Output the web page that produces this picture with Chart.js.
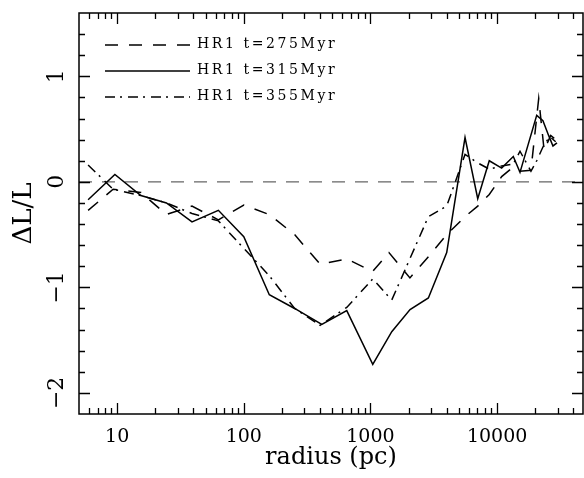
<!DOCTYPE html>
<html>
<head>
<meta charset="utf-8">
<script src="https://cdn.jsdelivr.net/npm/chart.js@4.4.1/dist/chart.umd.min.js"></script>
<style>
  html, body { margin: 0; padding: 0; background: #fff; }
  #wrap { width: 584px; height: 478px; }
</style>
</head>
<body>
<div id="wrap"><canvas id="c" width="584" height="478"></canvas></div>
<script>
// values: radius (pc) and dL/L per snapshot
const rad275 = [5.9, 9.3, 15.4, 24.5, 39, 63, 100, 159, 252, 400, 650, 1040, 1400, 2050, 2870, 4000, 5580, 7030, 8670, 10860, 13420, 15160, 18500, 21300, 23500, 26500, 29000];
const dl275  = [-0.27, -0.07, -0.10, -0.31, -0.23, -0.36, -0.22, -0.31, -0.50, -0.78, -0.73, -0.85, -0.67, -0.91, -0.71, -0.50, -0.33, -0.23, -0.12, 0.05, 0.14, 0.10, 0.11, 0.79, 0.30, 0.44, 0.40];

const rad315 = [5.9, 9.6, 15.4, 24.5, 39, 63, 100, 159, 252, 413, 650, 1043, 1473, 2054, 2866, 4000, 5580, 7030, 8670, 10860, 13420, 15160, 20540, 23000, 25500, 27600, 29700];
const dl315  = [-0.17, 0.07, -0.13, -0.20, -0.38, -0.27, -0.52, -1.07, -1.20, -1.35, -1.22, -1.73, -1.42, -1.21, -1.10, -0.67, 0.42, -0.16, 0.20, 0.13, 0.24, 0.09, 0.63, 0.58, 0.44, 0.34, 0.37];

const rad355 = [5.9, 9.3, 15.4, 24.5, 39, 63, 100, 159, 252, 400, 650, 1043, 1473, 2866, 4000, 5580, 7030, 8670, 10860, 13420, 15160, 18500, 20540, 23000, 26000, 29000];
const dl355  = [0.16, -0.07, -0.13, -0.20, -0.30, -0.37, -0.63, -0.89, -1.20, -1.36, -1.19, -0.92, -1.12, -0.33, -0.23, 0.26, 0.18, 0.12, 0.15, 0.17, 0.29, 0.10, 0.20, 0.33, 0.43, 0.38];

const labels = ['HR1 t=275Myr', 'HR1 t=315Myr', 'HR1 t=355Myr'];

const xTickLabels = [10, 100, 1000, 10000];
const yTickLabels = [-2, -1, 0, 1];
const xRange = [5, 47650];
const yRange = [-2.2, 1.6];
const zeroLine = [0, 0];

const pts = (xs, ys) => xs.map((x, i) => ({ x: x, y: ys[i] }));
const FONT = 'DejaVu Serif';

// inward ticks on all four sides + box
const frameTicks = {
  id: 'frameTicks',
  afterDatasetsDraw(chart) {
    const { ctx, chartArea: a, scales: { x, y } } = chart;
    ctx.save();
    ctx.strokeStyle = '#000';
    ctx.lineWidth = 1.3;
    ctx.beginPath();
    for (let d = 1; d <= 1e5; d *= 10) {
      for (let m = 1; m < 10; m++) {
        const v = m * d;
        if (v <= xRange[0] || v >= xRange[1]) continue;
        const px = Math.round(x.getPixelForValue(v)) + 0.5;
        const len = m === 1 ? 11 : 6;
        ctx.moveTo(px, a.bottom); ctx.lineTo(px, a.bottom - len);
        ctx.moveTo(px, a.top); ctx.lineTo(px, a.top + len);
      }
    }
    for (let k = -10; k <= 7; k++) {
      const py = Math.round(y.getPixelForValue(k / 5)) + 0.5;
      const len = k % 5 === 0 ? 11 : 6;
      ctx.moveTo(a.left, py); ctx.lineTo(a.left + len, py);
      ctx.moveTo(a.right, py); ctx.lineTo(a.right - len, py);
    }
    ctx.stroke();
    ctx.lineWidth = 1.5;
    ctx.strokeRect(a.left, a.top, a.right - a.left, a.bottom - a.top);
    ctx.restore();
  }
};

// legend sits inside the plot, top left
const insideLegend = {
  id: 'insideLegend',
  afterDatasetsDraw(chart) {
    const { ctx, chartArea: a } = chart;
    ctx.save();
    ctx.font = '14px "' + FONT + '"';
    ctx.fillStyle = '#000';
    ctx.textBaseline = 'middle';
    if ('letterSpacing' in ctx) ctx.letterSpacing = '2.6px';
    chart.data.datasets.filter(ds => ds.label).forEach((ds, i) => {
      const yy = a.top + 32 + i * 26;
      ctx.setLineDash(ds.borderDash || []);
      ctx.lineWidth = ds.borderWidth;
      ctx.strokeStyle = ds.borderColor;
      ctx.beginPath();
      ctx.moveTo(a.left + 26, yy);
      ctx.lineTo(a.left + 111, yy);
      ctx.stroke();
      ctx.fillText(ds.label, a.left + 118, yy - 1);
    });
    ctx.restore();
  }
};

new Chart(document.getElementById('c'), {
  type: 'line',
  data: {
    datasets: [
      { label: labels[0], data: pts(rad275, dl275), borderColor: '#000', borderWidth: 1.5, borderDash: [13, 11] },
      { label: labels[1], data: pts(rad315, dl315), borderColor: '#000', borderWidth: 1.5, borderDash: [] },
      { label: labels[2], data: pts(rad355, dl355), borderColor: '#000', borderWidth: 1.5, borderDash: [10, 5, 2, 6] },
      { label: '', data: pts(xRange, zeroLine), borderColor: '#666', borderWidth: 1.2, borderDash: [13, 10] }
    ]
  },
  options: {
    responsive: false,
    animation: false,
    devicePixelRatio: 1,
    layout: { padding: { top: 13, right: 1, left: 0, bottom: 0 } },
    elements: { point: { radius: 0 }, line: { tension: 0, fill: false } },
    plugins: { legend: { display: false }, tooltip: { enabled: false } },
    scales: {
      x: {
        type: 'logarithmic',
        min: xRange[0], max: xRange[1],
        grid: { display: false, drawTicks: false },
        border: { display: false },
        afterBuildTicks: s => { s.ticks = xTickLabels.map(v => ({ value: v })); },
        afterFit: s => { s.height = 64; s.paddingLeft = 0; s.paddingRight = 0; },
        ticks: {
          autoSkip: false, maxRotation: 0, padding: 12, color: '#000',
          font: { family: FONT, size: 19 },
          callback: v => String(v)
        },
        title: {
          display: true, text: 'radius (pc)', color: '#000',
          font: { family: FONT, size: 24, lineHeight: 1 },
          padding: { top: 0, bottom: 8 }
        }
      },
      y: {
        type: 'linear',
        min: yRange[0], max: yRange[1],
        grid: { display: false, drawTicks: false },
        border: { display: false },
        afterBuildTicks: s => { s.ticks = yTickLabels.map(v => ({ value: v })); },
        afterFit: s => { s.width = 79; s.paddingTop = 0; s.paddingBottom = 0; },
        ticks: {
          minRotation: 90, maxRotation: 90, crossAlign: 'center', padding: 6, color: '#000',
          font: { family: FONT, size: 22 },
          callback: v => v < 0 ? '\u2212' + Math.abs(v) : String(v)
        },
        title: {
          display: true, text: '\u0394L/L', color: '#000',
          font: { family: FONT, size: 26, lineHeight: 1 },
          padding: { top: 11, bottom: 0 }
        }
      }
    }
  },
  plugins: [frameTicks, insideLegend]
});
</script>
</body>
</html>
